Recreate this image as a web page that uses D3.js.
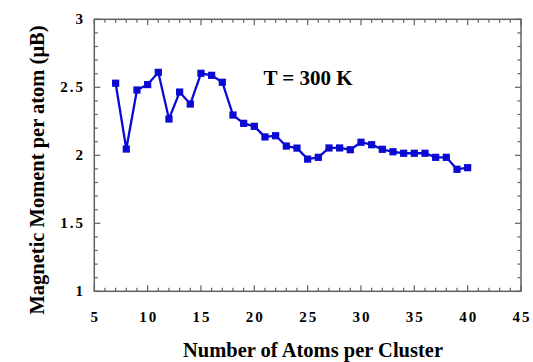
<!DOCTYPE html>
<html><head><meta charset="utf-8">
<script src="https://cdn.jsdelivr.net/npm/d3@7"></script>
<style>body{margin:0;background:#fff}svg{display:block}</style>
</head><body><svg id="c" width="533" height="362"></svg>
<script>
const atoms = [7,8,9,10,11,12,13,14,15,16,17,18,19,20,21,22,23,24,25,26,27,28,29,30,31,32,33,34,35,36,37,38,39,40];
const moment = [2.53,2.046,2.48,2.52,2.61,2.267,2.465,2.377,2.603,2.588,2.537,2.296,2.235,2.213,2.135,2.144,2.068,2.053,1.972,1.985,2.054,2.054,2.041,2.096,2.078,2.044,2.026,2.015,2.015,2.015,1.985,1.985,1.897,1.909];
const xTicks = [5,10,15,20,25,30,35,40,45];
const yTicks = [1,1.5,2,2.5,3];
const xTitle = "Number of Atoms per Cluster";
const yTitle = "Magnetic Moment per atom (μB)";
const note = "T = 300 K";

const FONT = "'Liberation Serif', Tinos, 'Times New Roman', Times, 'DejaVu Serif', serif";
const svg = d3.select("#c").attr("font-family",FONT).attr("font-weight","bold");
const L=94.3, R=521, T=19.3, B=291.3;
const x = d3.scaleLinear().domain([5,45]).range([L,R]);
const y = d3.scaleLinear().domain([1,3]).range([B,T]);
const frame="#606060";

const xMinor = d3.range(5,45.01,1), yMinor = d3.range(1,3.001,0.1);
const g = svg.append("g");
xMinor.forEach(v=>{
  const len = (Math.abs(v%5)<1e-6)?6:3.5;
  g.append("line").attr("x1",x(v)).attr("x2",x(v)).attr("y1",B).attr("y2",B-len).attr("stroke",frame).attr("stroke-width",1.2);
  g.append("line").attr("x1",x(v)).attr("x2",x(v)).attr("y1",T).attr("y2",T+len).attr("stroke",frame).attr("stroke-width",1.2);
});
yMinor.forEach(v=>{
  const k=Math.round(v*10);
  const len = (k%5===0)?6:3.5;
  g.append("line").attr("y1",y(v)).attr("y2",y(v)).attr("x1",L).attr("x2",L+len).attr("stroke",frame).attr("stroke-width",1.2);
  g.append("line").attr("y1",y(v)).attr("y2",y(v)).attr("x1",R).attr("x2",R-len).attr("stroke",frame).attr("stroke-width",1.2);
});
svg.append("rect").attr("x",L).attr("y",T).attr("width",R-L).attr("height",B-T).attr("fill","none").attr("stroke",frame).attr("stroke-width",1.5);

svg.append("g").selectAll("text").data(xTicks).join("text")
  .attr("x",d=>x(d)+1).attr("y",322).attr("text-anchor","middle").attr("font-size",15).attr("letter-spacing",2).text(d=>d);
svg.append("g").selectAll("text").data(yTicks).join("text")
  .attr("x",85).attr("y",d=>y(d)+4.5).attr("text-anchor","end").attr("font-size",15).attr("letter-spacing",2).text(d=>d);

svg.append("text").attr("x",313).attr("y",356.5).attr("text-anchor","middle").attr("font-size",20.5).text(xTitle);
svg.append("text").attr("transform","translate(44,170) rotate(-90)").attr("text-anchor","middle").attr("font-size",20.5).text(yTitle);
svg.append("text").attr("x",308).attr("y",85).attr("text-anchor","middle").attr("font-size",21).text(note);

const blue="#0a0ad2";
const line = d3.line().x((d,i)=>x(atoms[i])).y(d=>y(d));
svg.append("path").datum(moment).attr("d",line).attr("fill","none").attr("stroke",blue).attr("stroke-width",2.3);
svg.append("g").selectAll("rect").data(moment).join("rect")
  .attr("x",(d,i)=>x(atoms[i])-3.6).attr("y",d=>y(d)-3.6).attr("width",7.2).attr("height",7.2).attr("fill",blue);
</script></body></html>
